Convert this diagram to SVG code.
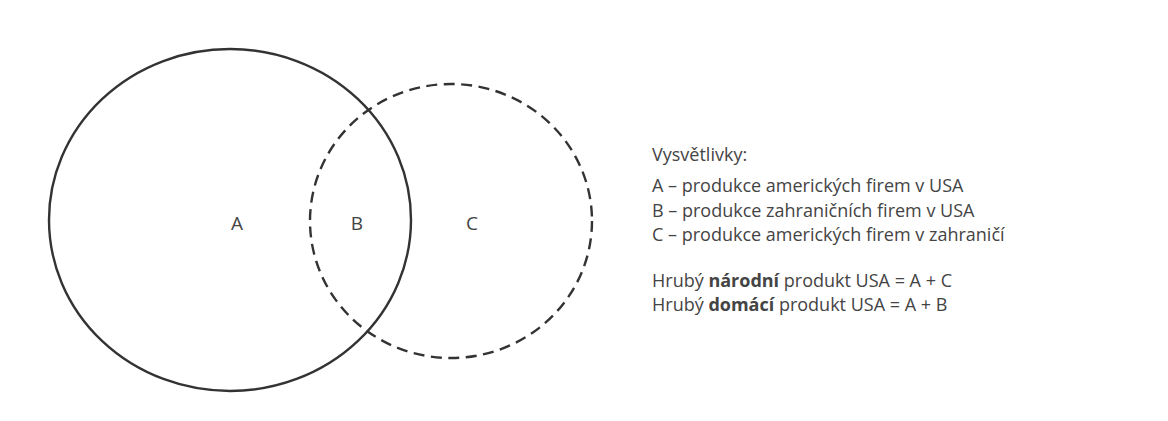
<svg xmlns="http://www.w3.org/2000/svg" width="1168" height="421" viewBox="0 0 1168 421">
<style>
.c{fill:none;stroke:#333;stroke-width:2.4}
.d{stroke-dasharray:11 6.5}
.t{font-family:"Open Sans","Noto Sans",sans-serif;font-size:18px;fill:#444}
.l{font-family:"Open Sans","Noto Sans",sans-serif;font-size:19px;fill:#444;text-anchor:middle}
.b{font-weight:bold}
</style>
<rect width="1168" height="421" fill="#fff"/>
<g id="circleA"><ellipse class="c" cx="230" cy="220" rx="181" ry="171"/></g>
<g id="circleC"><ellipse class="c d" cx="451" cy="221" rx="141" ry="137"/></g>
<g id="labels">
<text class="l" x="237" y="230">A</text>
<text class="l" x="357" y="230">B</text>
<text class="l" x="472" y="230">C</text>
</g>
<g id="legend">
<text class="t" x="652" y="161">Vysvětlivky:</text>
<text class="t" x="652" y="192">A – produkce amerických firem v USA</text>
<text class="t" x="652" y="217">B – produkce zahraničních firem v USA</text>
<text class="t" x="652" y="241">C – produkce amerických firem v zahraničí</text>
<text class="t" x="652" y="287">Hrubý <tspan class="b">národní</tspan> produkt USA = A + C</text>
<text class="t" x="652" y="311">Hrubý <tspan class="b">domácí</tspan> produkt USA = A + B</text>
</g>
</svg>
